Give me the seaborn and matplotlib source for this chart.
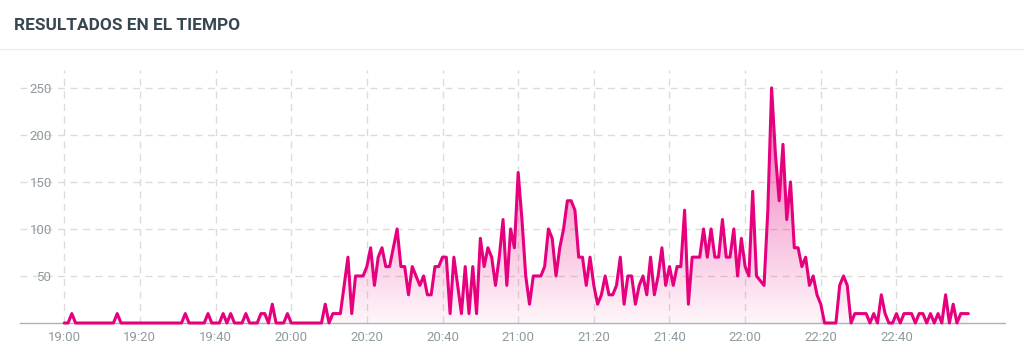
import numpy as np
import pandas as pd
import seaborn as sns
import matplotlib.pyplot as plt
import matplotlib.dates as mdates
from matplotlib.colors import to_rgb
from matplotlib.lines import Line2D

# resultados por minuto, 19:00 -> 22:59
start = "2024-01-01 19:00"
valores = [
    0, 0, 10, 0, 0, 0, 0, 0, 0, 0,
    0, 0, 0, 0, 10, 0, 0, 0, 0, 0,
    0, 0, 0, 0, 0, 0, 0, 0, 0, 0,
    0, 0, 10, 0, 0, 0, 0, 0, 10, 0,
    0, 0, 10, 0, 10, 0, 0, 0, 10, 0,
    0, 0, 10, 10, 0, 20, 0, 0, 0, 10,
    0, 0, 0, 0, 0, 0, 0, 0, 0, 20,
    0, 10, 10, 10, 40, 70, 10, 50, 50, 50,
    60, 80, 40, 70, 80, 60, 60, 80, 100, 60,
    60, 30, 60, 50, 40, 50, 30, 30, 60, 60,
    70, 70, 10, 70, 40, 10, 60, 10, 60, 10,
    90, 60, 80, 70, 40, 70, 110, 40, 100, 80,
    160, 110, 50, 20, 50, 50, 50, 60, 100, 90,
    50, 80, 100, 130, 130, 120, 70, 70, 40, 70,
    40, 20, 30, 50, 30, 30, 40, 70, 20, 50,
    50, 20, 40, 50, 30, 70, 30, 50, 80, 40,
    60, 40, 60, 60, 120, 20, 70, 70, 70, 100,
    70, 100, 70, 70, 110, 70, 70, 100, 50, 90,
    60, 50, 140, 50, 45, 40, 120, 250, 180, 130,
    190, 110, 150, 80, 80, 60, 70, 40, 50, 30,
    20, 0, 0, 0, 0, 40, 50, 40, 0, 10,
    10, 10, 10, 0, 10, 0, 30, 10, 0, 0,
    10, 0, 10, 10, 10, 0, 10, 10, 0, 10,
    0, 10, 0, 30, 0, 20, 0, 10, 10, 10,
]
y_ticks = [50, 100, 150, 200, 250]

tiempo = pd.date_range(start, periods=len(valores), freq="min")
df = pd.DataFrame({"tiempo": tiempo, "valor": valores})

sns.set_theme(style="white")
plt.rcParams["font.family"] = ["Roboto", "DejaVu Sans"]

color = "#e6007e"
gris = "#8f9a9e"

fig = plt.figure(figsize=(10.24, 3.63), dpi=100)
ax = fig.add_axes([20 / 1024, 40 / 363, 985 / 1024, 253 / 363])

sns.lineplot(data=df, x="tiempo", y="valor", ax=ax, color=color,
             linewidth=2.2, clip_on=False, solid_joinstyle="round", zorder=4)

# relleno con degradado bajo la curva
x_num = mdates.date2num(df["tiempo"])
poly = ax.fill_between(x_num, df["valor"], 0, color="none", lw=0)
grad = np.zeros((256, 1, 4))
grad[:, 0, :3] = to_rgb(color)
grad[:, 0, 3] = np.linspace(0.04, 0.6, 256)
img = ax.imshow(grad, aspect="auto", origin="lower",
                extent=[x_num[0], x_num[-1], 0, max(valores)], zorder=2)
img.set_clip_path(poly.get_paths()[0], transform=ax.transData)

t0 = pd.Timestamp(start)
ax.set_xlim(t0 - pd.Timedelta(minutes=11.7), t0 + pd.Timedelta(minutes=248.7))
ax.set_ylim(0, 269)

ax.set_xticks(pd.date_range(start, periods=12, freq="20min"))
ax.xaxis.set_major_formatter(mdates.DateFormatter("%H:%M"))
ax.set_yticks(y_ticks)
ax.set_yticklabels([str(v) for v in y_ticks])
ax.tick_params(axis="x", length=0, pad=6, labelsize=9.5, labelcolor=gris)
ax.tick_params(axis="y", length=0, pad=-23, labelsize=9.5, labelcolor=gris)
ax.set_xlabel("")
ax.set_ylabel("")

ax.grid(True, color="#dcdcdc", linestyle=(0, (5, 4)), linewidth=1)
ax.set_axisbelow(True)
for s in ["top", "right", "left"]:
    ax.spines[s].set_visible(False)
ax.spines["bottom"].set_color("#a9b4b8")
ax.spines["bottom"].set_linewidth(1)

fig.text(14 / 1024, 1 - 26 / 363, "RESULTADOS EN EL TIEMPO", fontsize=12.4,
         fontweight="bold", color="#37474f", va="center", ha="left")
fig.add_artist(Line2D([0, 1], [1 - 48.5 / 363] * 2, color="#ececec", lw=1))

fig.savefig("out.png", dpi=100)
